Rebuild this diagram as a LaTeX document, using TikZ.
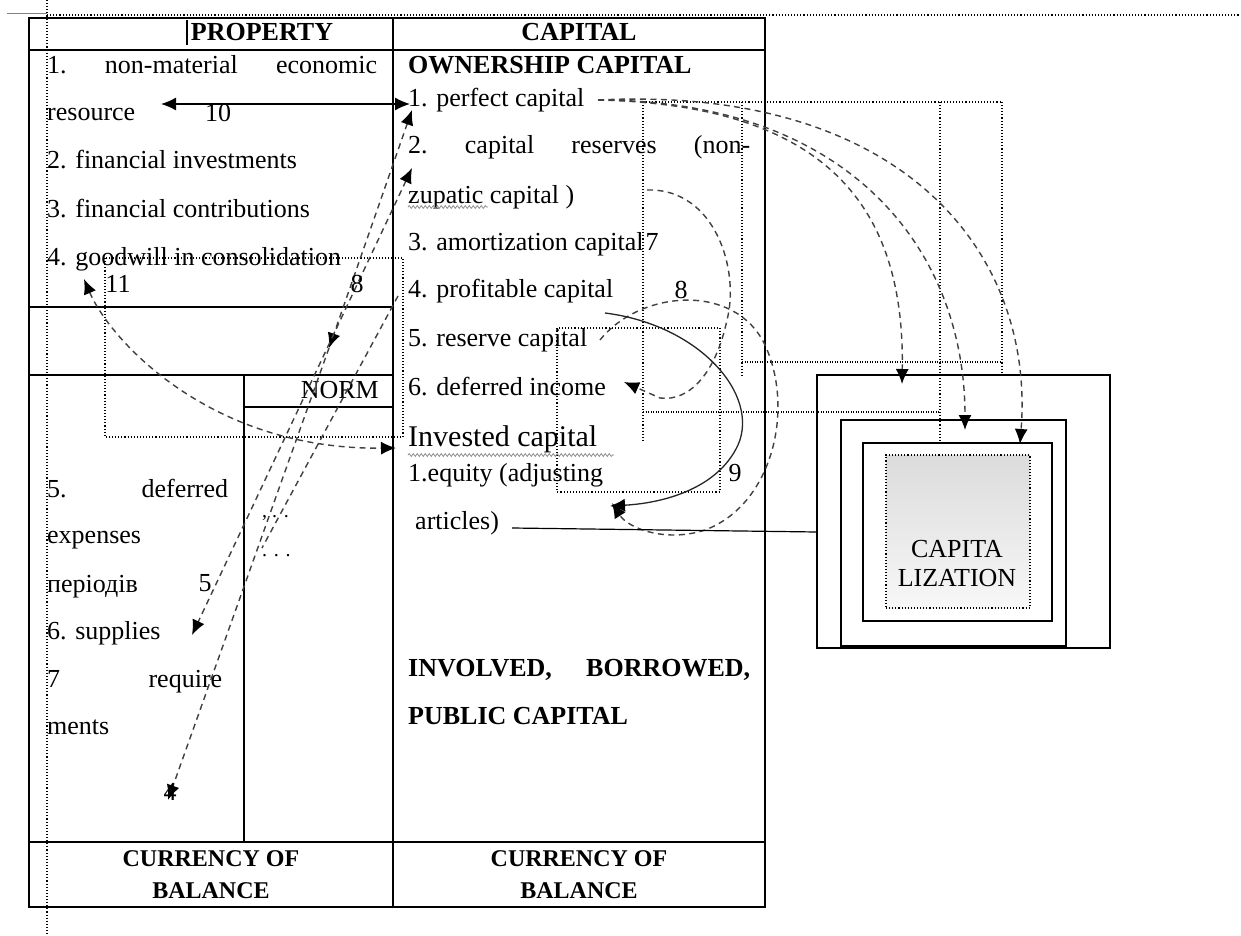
\documentclass[tikz,border=0pt]{standalone}
\usepackage{fontspec}
\setmainfont{Liberation Serif}
\usetikzlibrary{arrows.meta,decorations.pathmorphing}
\newcommand\myfs{\fontsize{26}{30}\selectfont}
\newcommand\myhs{\fontsize{24}{28}\selectfont}
\begin{document}
\begin{tikzpicture}[x=1pt,y=-1pt,
 tbl/.style={line width=1.4pt},
 dotl/.style={line width=1.1pt, dash pattern=on 1.1pt off 2pt},
 dotw/.style={line width=2pt, dash pattern=on 1.1pt off 1.4pt},
 dsh/.style={line width=1.4pt, dash pattern=on 6pt off 4.5pt, black!75},
 tipe/.style={-{Latex[length=15pt,width=13pt,color=black,fill=black]}},
 tipb/.style={{Latex[length=15pt,width=13pt,color=black,fill=black]}-{Latex[length=15pt,width=13pt,color=black,fill=black]}},
 txt/.style={anchor=base west, inner sep=0pt, font=\myfs},
 hd/.style={anchor=base, inner sep=0pt, font=\myfs\bfseries},
 hds/.style={anchor=base, inner sep=0pt, font=\myhs\bfseries},
 lbl/.style={anchor=base, inner sep=0pt, font=\myfs},
 wavy/.style={black!45, line width=0.8pt, decorate, decoration={snake, amplitude=1.4pt, segment length=4pt}},
 capbox/.style={draw, line width=1.3pt, inner sep=0pt}
]
\useasboundingbox (0,0) rectangle (1241,936);
\fill[white] (0,0) rectangle (1241,936);

% guide lines
\draw[black!50, line width=1pt] (7,14) -- (47,14);
\draw[dotl] (47,15) -- (1241,15);
\draw[dotl] (47,0) -- (47,936);
\draw[line width=1.6pt] (187,20) -- (187,45);

% table
\draw[tbl] (29,18) rectangle (765,907);
\draw[tbl] (29,50) -- (765,50);
\draw[tbl] (393,18) -- (393,907);
\draw[tbl] (29,307) -- (393,307);
\draw[tbl] (29,375) -- (393,375);
\draw[tbl] (244,375) -- (244,842);
\draw[tbl] (244,407) -- (393,407);
\draw[tbl] (29,842) -- (765,842);

% dotted frames
\draw[dotl] (105,258) rectangle (403,437);
\draw[dotl] (643,102) -- (1002,102);
\draw[dotl] (643,102) -- (643,442);
\draw[dotl] (742,102) -- (742,376);
\draw[dotl] (940,102) -- (940,443);
\draw[dotl] (1002,102) -- (1002,375);
\draw[dotw] (742,362) -- (1002,362);
\draw[dotw] (643,412) -- (940,412);
\draw[dotl] (557,328) rectangle (720,492);

% headers
\node[hd] (hprop) at (262,41) {PROPERTY};
\node[hd] (hcap) at (579,41) {CAPITAL};

% left column text
\node[txt] (p1) at (47,74) {\hbox to 330pt{1.\hfill non-material\hfill economic}};
\node[txt] (p1b) at (47,121) {resource};
\node[txt] (p2) at (47,169) {2. financial investments};
\node[txt] (p3) at (47,217) {3. financial contributions};
\node[txt] (p4) at (47,265) {4. goodwill in consolidation};
\node[txt] (p5) at (47,497) {\hbox to 181pt{5.\hfill deferred}};
\node[txt] (p5b) at (47,543) {expenses};
\node[txt] (p5c) at (47,592) {періодів};
\node[txt] (p6) at (47,639) {6. supplies};
\node[txt] (p7) at (47,687) {\hbox to 175pt{7\hfill require}};
\node[txt] (p7b) at (47,734) {ments};
\node[anchor=base east, inner sep=0pt, font=\myfs] (norm) at (379,398) {NORM};
\node[anchor=base west, inner sep=0pt, font=\fontsize{20}{24}\selectfont] (dots1) at (262,517) {, . .};
\node[anchor=base west, inner sep=0pt, font=\fontsize{20}{24}\selectfont] (dots2) at (262,556) {. . .};

% right column text
\node[txt, font=\myfs\bfseries] (own) at (408,74) {OWNERSHIP CAPITAL};
\node[txt] (c1) at (408,107) {1. perfect capital};
\node[txt] (c2) at (408,154) {\hbox to 342pt{2.\hfill capital\hfill reserves\hfill (non-}};
\node[txt] (c2b) at (408,203) {zupatic capital )};
\node[txt] (c3) at (408,250) {3. amortization capital};
\node[txt] (c4) at (408,297) {4. profitable capital};
\node[txt] (c5) at (408,346) {5. reserve capital};
\node[txt] (c6) at (408,395) {6. deferred income};
\node[txt, font=\fontsize{30}{34}\selectfont] (inv) at (408,446) {Invested capital};
\node[txt] (eq) at (408,481) {1.equity (adjusting};
\node[txt] (art) at (415,529) {articles)};
\node[txt, font=\myfs\bfseries] (invl) at (408,676) {\hbox to 342pt{INVOLVED,\hfill BORROWED,}};
\node[txt, font=\myfs\bfseries] (pub) at (408,724) {PUBLIC CAPITAL};
\draw[wavy] (408,207) -- (488,207);
\draw[wavy] (408,455) -- (614,455);

% bottom
\node[hds] (cur1) at (211,866) {CURRENCY OF};
\node[hds] (bal1) at (211,898) {BALANCE};
\node[hds] (cur2) at (579,866) {CURRENCY OF};
\node[hds] (bal2) at (579,898) {BALANCE};

% capitalization boxes
\node[capbox, minimum width=293pt, minimum height=273pt] (capA) at (963.5,511.5) {};
\node[capbox, minimum width=225pt, minimum height=226pt] (capB) at (953.5,533) {};
\node[capbox, minimum width=189pt, minimum height=178pt] (capC) at (957.5,532) {};
\shade[top color=black!14, bottom color=black!3] (886,455) rectangle (1030,608);
\node[dotl, draw, minimum width=144pt, minimum height=153pt, inner sep=0pt] (capD) at (958,531.5) {};
\node[lbl] (capt1) at (957,557) {CAPITA};
\node[lbl] (capt2) at (957,586) {LIZATION};

% connector 10
\coordinate (t10l) at (161,104);
\coordinate (t10r) at (410,104);
\draw[line width=1.3pt, tipb] (t10l) -- (t10r);
\node[lbl] (n10) at (218,122) {10};

% long dashed lines
\coordinate (L1a) at (412,110);
\coordinate (L1m) at (329,348);
\coordinate (L1b) at (168,800);
\draw[dsh, tipb] (L1a) -- (L1m);
\draw[dsh, tipe] (L1m) -- (L1b);
\node[lbl] (n4) at (170,800) {4};
\coordinate (L2a) at (412,168);
\coordinate (L2b) at (192,635);
\draw[dsh, tipb] (L2a) -- (L2b);
\node[lbl] (n5) at (205,591) {5};
\coordinate (L3a) at (398,296);
\coordinate (L3b) at (262,548);
\draw[dsh] (L3a) -- (L3b);

% curve 11
\coordinate (c11a) at (84,279);
\coordinate (c11b) at (396,448);
\draw[dsh, tipb] (c11a) .. controls (110,340) and (210,450) .. (c11b);
\node[lbl] (n11) at (118,292) {11};
\node[lbl] (nB) at (357,292) {8};

% curve 7
\coordinate (c7a) at (647,190);
\coordinate (c7b) at (624,382);
\draw[dsh, tipe] (c7a) .. controls (715,188) and (740,270) .. (727,320) .. controls (716,372) and (690,402) .. (660,398) -- (c7b);
\node[lbl] (n7) at (652,250) {7};

% curve 8
\coordinate (c8a) at (600,340);
\coordinate (c8b) at (612,503);
\draw[dsh, tipe] (c8a) .. controls (640,290) and (735,282) .. (765,345) .. controls (795,410) and (772,505) .. (705,530) .. controls (665,543) and (628,528) .. (c8b);
\node[lbl] (n8) at (681,298) {8};

% curve 9
\coordinate (c9a) at (605,313);
\coordinate (c9b) at (610,506);
\draw[line width=1.3pt, black!85, tipe] (c9a) .. controls (700,325) and (760,395) .. (738,445) .. controls (718,488) and (665,503) .. (c9b);
\node[lbl] (n9) at (735,481) {9};

% curves to capitalization
\coordinate (cp) at (598,100);
\coordinate (e1) at (902,384);
\coordinate (e2) at (965,430);
\coordinate (e3) at (1020,444);
\draw[dsh, tipe] (cp) .. controls (830,105) and (905,210) .. (e1);
\draw[dsh, tipe] (cp) .. controls (850,100) and (965,250) .. (e2);
\draw[dsh, tipe] (cp) .. controls (900,85) and (1035,250) .. (e3);

% articles to capitalization
\coordinate (artE) at (512,528);
\coordinate (capW) at (817,532);
\draw[line width=1.2pt] (artE) -- (capW);
\end{tikzpicture}
\end{document}
